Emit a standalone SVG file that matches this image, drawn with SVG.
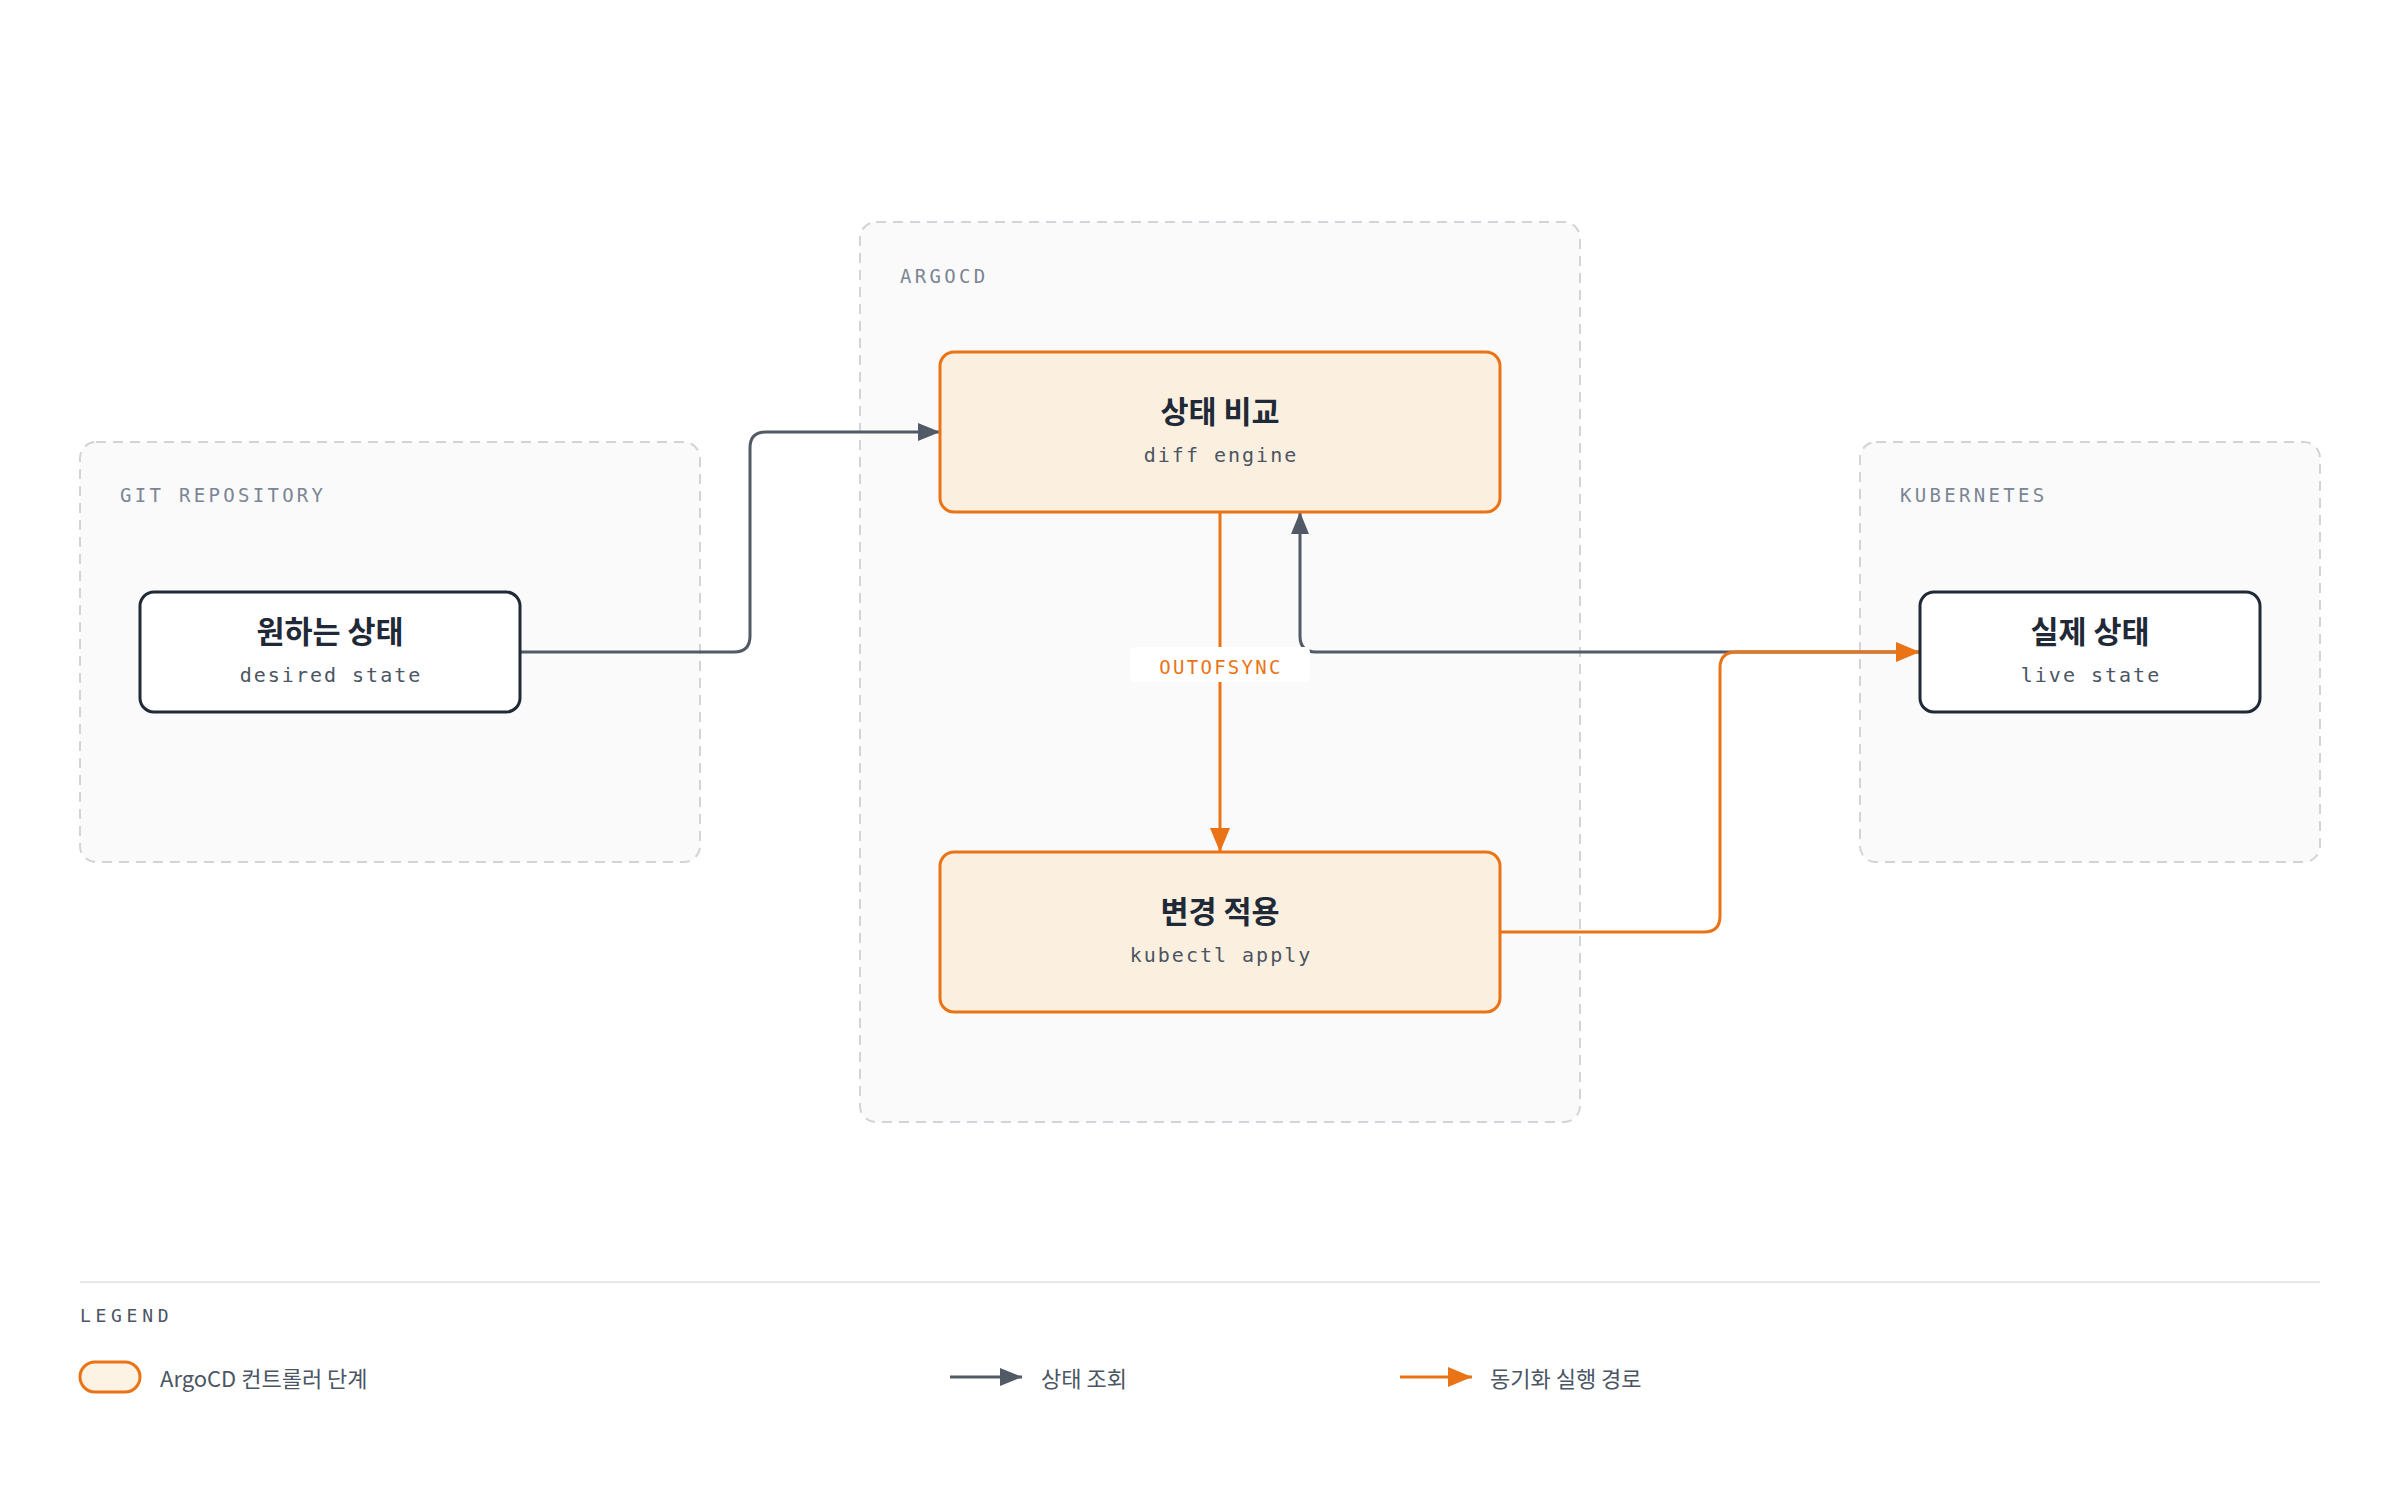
<svg xmlns="http://www.w3.org/2000/svg" width="2400" height="1502" viewBox="0 0 2400 1502">
<defs>
  <marker id="ah-gray" markerUnits="userSpaceOnUse" markerWidth="24" markerHeight="18" refX="22" refY="9" orient="auto"><path d="M0,0 L22,9 L0,18 z" fill="#525a66"/></marker>
  <marker id="ah-orange" markerUnits="userSpaceOnUse" markerWidth="26" markerHeight="20" refX="24" refY="10" orient="auto"><path d="M0,0 L24,10 L0,20 z" fill="#ea7316"/></marker>
</defs>
<style>
  .container rect { fill:#fafafa; stroke:#d1d4d9; stroke-width:2; stroke-dasharray:10 7; }
  .glabel { font-family:"DejaVu Sans Mono","Liberation Mono",monospace; font-size:19px; letter-spacing:3.3px; fill:#7b8595; }
  .node-k rect { fill:#ffffff; stroke:#1f2937; stroke-width:3; }
  .node-o rect { fill:#fbf0e0; stroke:#ea7316; stroke-width:3; }
  .title { font-family:"Noto Sans CJK KR","Noto Sans",sans-serif; font-weight:700; font-size:30.5px; fill:#1f2937; text-anchor:middle; }
  .sub { font-family:"DejaVu Sans Mono","Liberation Mono",monospace; font-size:20px; letter-spacing:2px; fill:#4b5563; text-anchor:middle; }
  .conn-g { fill:none; stroke:#525a66; stroke-width:3; }
  .conn-o { fill:none; stroke:#ea7316; stroke-width:3; }
  .edge-label { font-family:"DejaVu Sans Mono","Liberation Mono",monospace; font-size:19px; letter-spacing:2.3px; fill:#ea7316; text-anchor:middle; }
  .legend-title { font-family:"DejaVu Sans Mono","Liberation Mono",monospace; font-size:18px; letter-spacing:4.7px; fill:#4b5563; }
  .legend-text { font-family:"Noto Sans CJK KR","Noto Sans",sans-serif; font-size:22px; fill:#4b5563; }
</style>
<rect x="0" y="0" width="2400" height="1502" fill="#ffffff"/>

<g id="group-git" class="container">
  <rect x="80" y="442" width="620" height="420" rx="16"/>
  <text class="glabel" x="120" y="502">GIT REPOSITORY</text>
</g>
<g id="group-argocd" class="container">
  <rect x="860" y="222" width="720" height="900" rx="16"/>
  <text class="glabel" x="900" y="283">ARGOCD</text>
</g>
<g id="group-k8s" class="container">
  <rect x="1860" y="442" width="460" height="420" rx="16"/>
  <text class="glabel" x="1900" y="502">KUBERNETES</text>
</g>

<g id="connectors">
  <path class="conn-g" d="M520,652 H734 Q750,652 750,636 V448 Q750,432 766,432 H940" marker-end="url(#ah-gray)"/>
  <path class="conn-g" d="M1920,652 H1316 Q1300,652 1300,636 V512" marker-end="url(#ah-gray)"/>
  <path class="conn-o" d="M1220,512 V852" marker-end="url(#ah-orange)"/>
  <path class="conn-o" d="M1500,932 H1704 Q1720,932 1720,916 V668 Q1720,652 1736,652 H1920" marker-end="url(#ah-orange)"/>
  <g id="label-outofsync">
    <rect x="1130" y="647" width="180" height="35" rx="5" fill="#ffffff"/>
    <text class="edge-label" x="1221" y="674">OUTOFSYNC</text>
  </g>
</g>

<g id="node-desired" class="node-k">
  <rect x="140" y="592" width="380" height="120" rx="14"/>
  <text class="title" x="330" y="643">원하는 상태</text>
  <text class="sub" x="331" y="682">desired state</text>
</g>
<g id="node-compare" class="node-o">
  <rect x="940" y="352" width="560" height="160" rx="14"/>
  <text class="title" x="1220" y="423">상태 비교</text>
  <text class="sub" x="1221" y="462">diff engine</text>
</g>
<g id="node-apply" class="node-o">
  <rect x="940" y="852" width="560" height="160" rx="14"/>
  <text class="title" x="1220" y="923">변경 적용</text>
  <text class="sub" x="1221" y="962">kubectl apply</text>
</g>
<g id="node-live" class="node-k">
  <rect x="1920" y="592" width="340" height="120" rx="14"/>
  <text class="title" x="2090" y="643">실제 상태</text>
  <text class="sub" x="2091" y="682">live state</text>
</g>

<g id="legend">
  <line x1="80" y1="1282" x2="2320" y2="1282" stroke="#e5e7eb" stroke-width="2"/>
  <text class="legend-title" x="80" y="1322">LEGEND</text>
  <rect x="80" y="1362" width="60" height="30" rx="15" fill="#fdf3e4" stroke="#ea7316" stroke-width="3"/>
  <text class="legend-text" x="160" y="1387">ArgoCD 컨트롤러 단계</text>
  <path class="conn-g" d="M950,1377 H1022" marker-end="url(#ah-gray)"/>
  <text class="legend-text" x="1041" y="1387">상태 조회</text>
  <path class="conn-o" d="M1400,1377 H1472" marker-end="url(#ah-orange)"/>
  <text class="legend-text" x="1490" y="1387">동기화 실행 경로</text>
</g>
</svg>
